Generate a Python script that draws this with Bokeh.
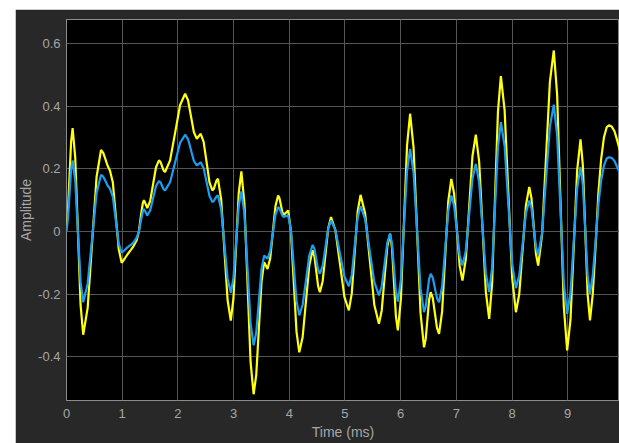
from bokeh.plotting import figure
from bokeh.models import Range1d, FixedTicker, Spacer
from bokeh.layouts import row, column
from bokeh.embed import file_html
from bokeh.resources import INLINE

# ---- data (time in ms, amplitudes) ----
t_ms = [
    0.00, 0.0275, 0.055, 0.0825, 0.11, 0.1575, 0.205, 0.2525, 0.30, 0.38,
    0.46, 0.54, 0.62, 0.66, 0.70, 0.74, 0.78, 0.8325, 0.885, 0.9375,
    0.99, 1.04, 1.10, 1.16, 1.21, 1.26, 1.30, 1.34, 1.37, 1.39,
    1.42, 1.45, 1.5025, 1.555, 1.6075, 1.66, 1.6875, 1.715, 1.7425, 1.77,
    1.86, 1.95, 2.04, 2.13, 2.1825, 2.235, 2.2875, 2.34, 2.375, 2.41,
    2.4625, 2.515, 2.5675, 2.62, 2.645, 2.67, 2.695, 2.72, 2.7775, 2.835,
    2.8925, 2.95, 2.9975, 3.045, 3.0925, 3.14, 3.195, 3.25, 3.305, 3.36,
    3.4075, 3.455, 3.5025, 3.55, 3.58, 3.61, 3.6575, 3.705, 3.7525, 3.80,
    3.825, 3.85, 3.875, 3.90, 3.94, 3.98, 4.03, 4.08, 4.13, 4.18,
    4.24, 4.30, 4.36, 4.42, 4.4525, 4.485, 4.5175, 4.55, 4.60, 4.65,
    4.70, 4.75, 4.83, 4.91, 4.99, 5.07, 5.1225, 5.175, 5.2275, 5.28,
    5.3625, 5.445, 5.5275, 5.61, 5.66, 5.71, 5.76, 5.81, 5.845, 5.88,
    5.915, 5.95, 6.005, 6.06, 6.115, 6.17, 6.2325, 6.295, 6.3575, 6.42,
    6.45, 6.48, 6.51, 6.54, 6.5775, 6.615, 6.6525, 6.69, 6.745, 6.80,
    6.855, 6.91, 6.96, 7.01, 7.06, 7.11, 7.17, 7.23, 7.29, 7.35,
    7.41, 7.47, 7.53, 7.59, 7.6425, 7.695, 7.7475, 7.80, 7.8675, 7.935,
    8.0025, 8.07, 8.13, 8.19, 8.25, 8.31, 8.35, 8.39, 8.43, 8.47,
    8.54, 8.61, 8.68, 8.75, 8.81, 8.87, 8.93, 8.99, 9.05, 9.11,
    9.17, 9.23, 9.2725, 9.315, 9.3575, 9.40, 9.45, 9.50, 9.55, 9.60,
    9.65, 9.70, 9.74, 9.79, 9.84, 9.89, 9.95,
]

amp_yellow = [
    0.02, 0.07, 0.18, 0.286, 0.33, 0.234, 0.0, -0.234, -0.33, -0.244,
    -0.035, 0.174, 0.26, 0.251, 0.23, 0.209, 0.195, 0.156, 0.05, -0.056,
    -0.10, -0.088, -0.072, -0.058, -0.045, -0.028, 0.0, 0.055, 0.09, 0.10,
    0.088, 0.075, 0.097, 0.151, 0.205, 0.227, 0.222, 0.209, 0.195, 0.19,
    0.227, 0.315, 0.404, 0.44, 0.419, 0.368, 0.317, 0.296, 0.304, 0.312,
    0.286, 0.222, 0.157, 0.131, 0.136, 0.15, 0.163, 0.168, 0.102, -0.059,
    -0.219, -0.285, -0.215, -0.047, 0.122, 0.192, 0.088, -0.164, -0.416, -0.52,
    -0.458, -0.309, -0.16, -0.098, -0.109, -0.12, -0.086, -0.003, 0.081, 0.115,
    0.106, 0.084, 0.062, 0.053, 0.06, 0.067, 0.001, -0.16, -0.32, -0.386,
    -0.338, -0.223, -0.108, -0.06, -0.08, -0.127, -0.174, -0.194, -0.159, -0.074,
    0.011, 0.046, 0.003, -0.103, -0.209, -0.252, -0.198, -0.068, 0.063, 0.117,
    0.057, -0.089, -0.235, -0.295, -0.253, -0.151, -0.049, -0.007, -0.052, -0.162,
    -0.271, -0.316, -0.215, 0.03, 0.275, 0.376, 0.267, 0.003, -0.261, -0.37,
    -0.344, -0.282, -0.22, -0.194, -0.213, -0.261, -0.308, -0.327, -0.255, -0.08,
    0.096, 0.168, 0.121, 0.006, -0.11, -0.157, -0.089, 0.076, 0.241, 0.309,
    0.223, 0.015, -0.193, -0.279, -0.166, 0.109, 0.383, 0.496, 0.386, 0.119,
    -0.148, -0.258, -0.2, -0.058, 0.084, 0.142, 0.105, 0.017, -0.072, -0.109,
    -0.009, 0.235, 0.478, 0.578, 0.438, 0.099, -0.24, -0.38, -0.282, -0.043,
    0.196, 0.294, 0.21, 0.005, -0.2, -0.284, -0.2, -0.05, 0.12, 0.23,
    0.30, 0.333, 0.339, 0.335, 0.32, 0.29, 0.25,
]

amp_blue = [
    0.0, 0.045, 0.12, 0.197, 0.227, 0.161, 0.0, -0.16, -0.226, -0.167,
    -0.023, 0.122, 0.181, 0.175, 0.161, 0.146, 0.137, 0.11, 0.036, -0.038,
    -0.068, -0.06, -0.05, -0.042, -0.034, -0.02, 0.0, 0.038, 0.063, 0.072,
    0.062, 0.051, 0.067, 0.106, 0.145, 0.161, 0.157, 0.146, 0.135, 0.131,
    0.157, 0.22, 0.283, 0.309, 0.295, 0.26, 0.225, 0.211, 0.216, 0.221,
    0.202, 0.158, 0.113, 0.094, 0.097, 0.105, 0.112, 0.115, 0.07, -0.041,
    -0.151, -0.196, -0.149, -0.034, 0.081, 0.128, 0.056, -0.118, -0.292, -0.364,
    -0.322, -0.221, -0.119, -0.077, -0.082, -0.087, -0.063, -0.005, 0.054, 0.078,
    0.073, 0.062, 0.051, 0.046, 0.049, 0.051, 0.004, -0.109, -0.221, -0.268,
    -0.235, -0.156, -0.076, -0.043, -0.056, -0.089, -0.122, -0.135, -0.11, -0.05,
    0.01, 0.035, 0.004, -0.07, -0.144, -0.175, -0.138, -0.047, 0.044, 0.081,
    0.039, -0.062, -0.162, -0.204, -0.175, -0.106, -0.036, -0.007, -0.039, -0.116,
    -0.192, -0.224, -0.153, 0.02, 0.193, 0.264, 0.188, 0.003, -0.182, -0.258,
    -0.24, -0.197, -0.153, -0.135, -0.148, -0.181, -0.213, -0.226, -0.176, -0.056,
    0.065, 0.115, 0.082, 0.003, -0.076, -0.109, -0.062, 0.054, 0.169, 0.216,
    0.156, 0.011, -0.134, -0.194, -0.115, 0.078, 0.27, 0.349, 0.272, 0.084,
    -0.104, -0.181, -0.14, -0.041, 0.058, 0.099, 0.074, 0.012, -0.05, -0.075,
    -0.005, 0.165, 0.335, 0.405, 0.307, 0.071, -0.165, -0.263, -0.195, -0.029,
    0.138, 0.206, 0.147, 0.004, -0.14, -0.199, -0.14, -0.035, 0.085, 0.162,
    0.21, 0.233, 0.237, 0.235, 0.225, 0.205, 0.18,
]

x_ticks = [0, 1, 2, 3, 4, 5, 6, 7, 8, 9, 10]
y_ticks = [-0.4, -0.2, 0, 0.2, 0.4, 0.6]
y_tick_labels = {-0.4: "-0.4", -0.2: "-0.2", 0: "0", 0.2: "0.2", 0.4: "0.4", 0.6: "0.6"}

FONT = "Liberation Sans"
BG = "#282828"
TXT = "#a6a6a6"

p = figure(
    width=604, height=434,
    output_backend="svg", toolbar_location=None,
    x_range=Range1d(0, 9.93), y_range=Range1d(-0.54, 0.677),
    min_border_left=51, min_border_right=0, min_border_top=10, min_border_bottom=43,
    background_fill_color="black", border_fill_color=BG,
    outline_line_color="#8c8c8c", outline_line_width=1,
)

p.line(t_ms, amp_yellow, line_color="#FFFF11", line_width=2.2)
p.line(t_ms, amp_blue, line_color="#1C9CF2", line_width=2.2)

p.xaxis.ticker = FixedTicker(ticks=x_ticks)
p.yaxis.ticker = FixedTicker(ticks=y_ticks)
p.yaxis.major_label_overrides = y_tick_labels

for ax in (p.xaxis, p.yaxis):
    ax.axis_line_color = None
    ax.major_tick_line_color = None
    ax.minor_tick_line_color = None
    ax.major_tick_out = 0
    ax.major_tick_in = 0
    ax.minor_tick_out = 0
    ax.minor_tick_in = 0
    ax.major_label_text_color = TXT
    ax.major_label_text_font = FONT
    ax.major_label_text_font_size = "13px"
    ax.axis_label_text_color = TXT
    ax.axis_label_text_font = FONT
    ax.axis_label_text_font_size = "14px"
    ax.axis_label_text_font_style = "normal"

p.xaxis.axis_label = "Time (ms)"
p.yaxis.axis_label = "Amplitude"
p.xaxis.major_label_standoff = 8
p.xaxis.axis_label_standoff = 3
p.yaxis.major_label_standoff = 6
p.yaxis.axis_label_standoff = 1

p.grid.grid_line_color = "#555555"
p.grid.grid_line_width = 1

layout = column(Spacer(width=619, height=9), row(Spacer(width=15, height=434), p))

open("out.html", "w").write(file_html(layout, INLINE))
